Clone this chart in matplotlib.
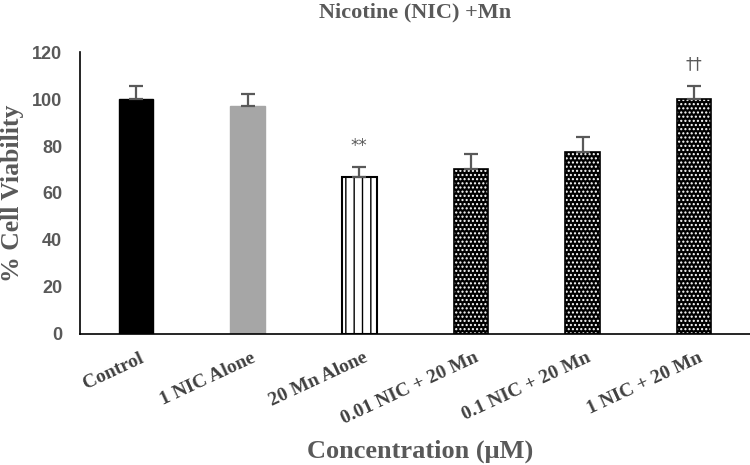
import matplotlib
matplotlib.use('Agg')
import matplotlib.pyplot as plt
import matplotlib.transforms as mtransforms

# data
groups = ['Control', '1 NIC Alone', '20 Mn Alone', '0.01 NIC + 20 Mn', '0.1 NIC + 20 Mn', '1 NIC + 20 Mn']
viability = [100, 97, 67, 70, 77.5, 100]
sem = [5.5, 5, 4, 6.5, 6.5, 5.5]
marks = ['', '', '**', '', '', '\u2020\u2020']
mark_y = [0, 0, 76, 0, 0, 111]

gray = '#595959'
serif = ['Liberation Serif', 'DejaVu Serif']

fig = plt.figure(figsize=(7.5, 4.65), dpi=100)
ax = fig.add_axes([0.107, 0.282, 0.893, 0.606])

x = list(range(len(groups)))
w = 0.31

# plain bars
ax.bar(x[0], viability[0], w, color='black', edgecolor='black', linewidth=1)
ax.bar(x[1], viability[1], w, color='#a6a6a6', edgecolor='#a6a6a6', linewidth=1)
# vertical stripes
ax.bar(x[2], viability[2], w, color='white', edgecolor='black', hatch='||', linewidth=1.5)
# black bars with white dash pattern
for i in x[3:]:
    ax.bar(i, viability[i], w, color='black', edgecolor='white', hatch='....', linewidth=0)
    ax.bar(i, viability[i], w, color='none', edgecolor='black', linewidth=1.2)

# upper error bars only
ax.errorbar(x, viability, yerr=[[0] * len(x), sem], fmt='none', ecolor=gray,
            elinewidth=1.6, capsize=5, capthick=1.6)

for i, m in enumerate(marks):
    if m:
        ax.text(i, mark_y[i], m, ha='center', va='bottom', fontsize=12,
                color=gray, family=['DejaVu Sans'])

ax.set_xlim(-0.5, 5.5)
ax.set_ylim(0, 120)
ax.set_yticks(range(0, 121, 20))
ax.tick_params(axis='y', length=0, pad=13)
for lbl in ax.get_yticklabels():
    lbl.set_fontfamily('Liberation Sans')
    lbl.set_fontweight('bold')
    lbl.set_fontsize(13)
    lbl.set_color(gray)

# rotated category labels, right end just past the bar centre
ax.set_xticks([])
trans = mtransforms.blended_transform_factory(ax.transData, ax.transAxes)
for i, g in enumerate(groups):
    ax.text(i + 0.03, -0.055, g, transform=trans, rotation=25,
            rotation_mode='anchor', ha='right', va='top', fontsize=14,
            fontweight='bold', color='#404040', family=serif)

ax.spines['top'].set_visible(False)
ax.spines['right'].set_visible(False)
ax.spines['left'].set_linewidth(1.2)
ax.spines['bottom'].set_linewidth(1.2)

ax.set_ylabel('% Cell Viability', fontsize=18.5, fontweight='bold', color=gray,
              family=serif, labelpad=6)
fig.text(420 / 750, 1 - 451 / 465, 'Concentration (\u03bcM)', ha='center', va='center',
         fontsize=19, fontweight='bold', color=gray, family=serif)
ax.set_title('Nicotine (NIC) +Mn', fontsize=16, fontweight='bold', color=gray,
             family=serif, pad=25)

fig.savefig('out.png', dpi=100)
